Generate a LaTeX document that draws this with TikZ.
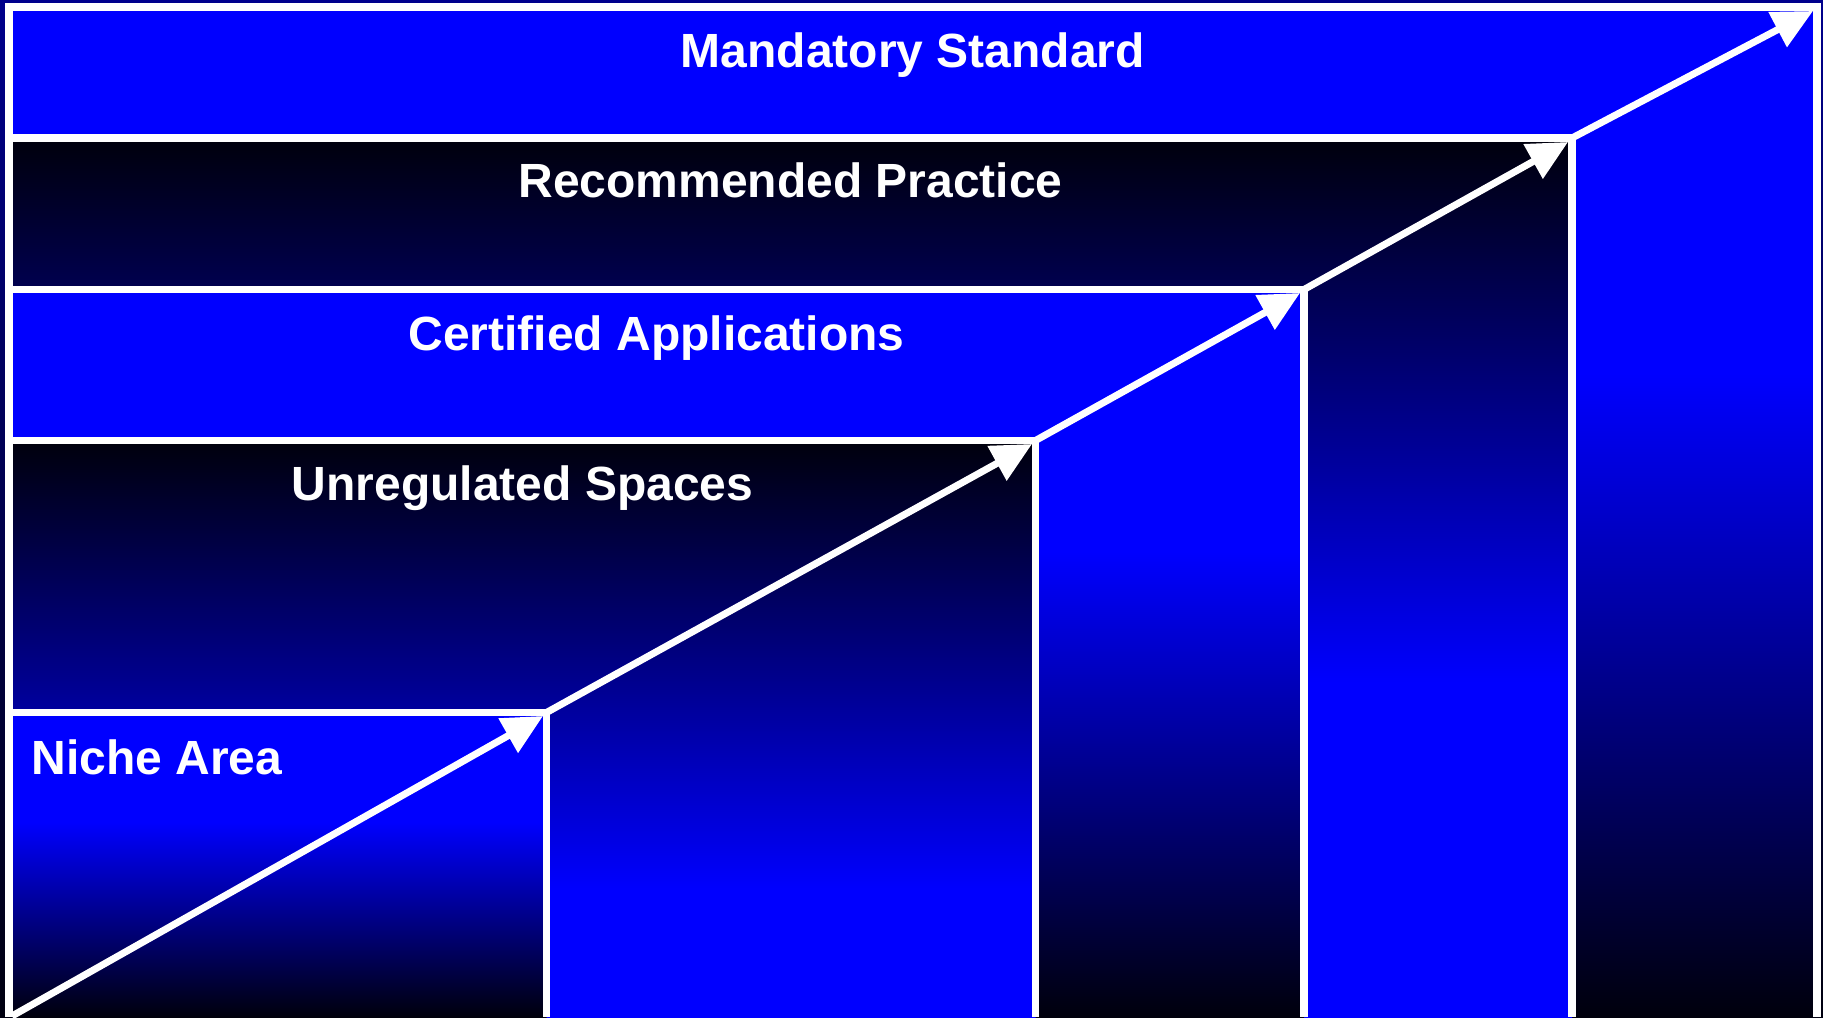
\documentclass[tikz,border=0pt]{standalone}
\usepackage{fontspec}
\setmainfont{Liberation Sans}
\usetikzlibrary{arrows.meta}

\definecolor{vivid}{RGB}{0,0,255}
\definecolor{deepnavy}{RGB}{0,0,12}
\definecolor{navytop}{RGB}{0,0,140}
\definecolor{navybottom}{RGB}{0,0,16}

% blue on top fading to black, and the other way round
\pgfdeclareverticalshading{bluefall}{100bp}{color(0bp)=(deepnavy); color(25bp)=(deepnavy); color(57bp)=(vivid); color(100bp)=(vivid)}
\pgfdeclareverticalshading{bluerise}{100bp}{color(0bp)=(vivid); color(44bp)=(vivid); color(75bp)=(deepnavy); color(100bp)=(deepnavy)}
\pgfdeclareverticalshading{blueriselate}{100bp}{color(0bp)=(vivid); color(36bp)=(vivid); color(75bp)=(deepnavy); color(100bp)=(deepnavy)}

\tikzset{
  divider/.style={white, line width=3.75pt},
  riser/.style={white, line width=3.5pt, -{Triangle[length=20pt,width=19pt]}},
  tag/.style={text=white, font=\fontsize{24pt}{28pt}\selectfont\bfseries, inner sep=0pt, anchor=base}
}

\begin{document}
\begin{tikzpicture}[x=0.5pt, y=-0.5pt]
                \useasboundingbox (0,0) rectangle (1823,1017);
                \shade[top color=navytop, bottom color=navybottom] (0,0) rectangle (1823,1017);

                % corners where the steps meet
                \coordinate (j0) at (12,1016);
                \coordinate (j1) at (546.5,712.5);
                \coordinate (j2) at (1035.5,440.5);
                \coordinate (j3) at (1304,289.5);
                \coordinate (j4) at (1572,138);
                \coordinate (t1) at (543,716);
                \coordinate (t2) at (1032,444);
                \coordinate (t3) at (1300,293);
                \coordinate (t4) at (1568,142);
                \coordinate (t5) at (1813,11);

                % the nested steps
                \shade[shading=bluefall] (13,11) rectangle (1813,1017);
                \shade[shading=bluerise] (13,138) rectangle (1572,1017);
                \shade[shading=bluefall] (13,289.5) rectangle (1304,1017);
                \shade[shading=blueriselate] (13,440.5) rectangle (1035.5,1017);
                \shade[shading=bluefall] (13,712.5) rectangle (546.5,1017);

                \draw[divider] (5,138) -| (1572,1017);
                \draw[divider] (5,289.5) -| (1304,1017);
                \draw[divider] (5,440.5) -| (1035.5,1017);
                \draw[divider] (5,712.5) -| (546.5,1017);
                \draw[white, line width=4pt] (9,1017) |- (1817,7) -- (1817,1017);

                \node[tag] (mandatory) at (913,67) {Mandatory Standard};
                \node[tag] (recommended) at (790.5,197) {Recommended Practice};
                \node[tag] (certified) at (656.5,350) {Certified Applications};
                \node[tag] (unregulated) at (522.5,500) {Unregulated Spaces};
                \node[tag, anchor=base west] (niche) at (31,774) {Niche Area};

                \draw[riser] (j0) -- (t1);
                \draw[riser] (j1) -- (t2);
                \draw[riser] (j2) -- (t3);
                \draw[riser] (j3) -- (t4);
                \draw[riser] (j4) -- (t5);
\end{tikzpicture}
\end{document}
